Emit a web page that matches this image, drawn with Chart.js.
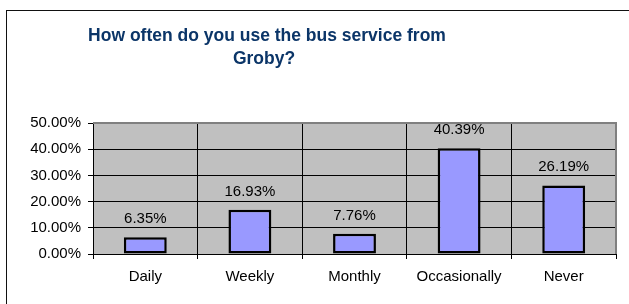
<!DOCTYPE html>
<html lang="en">
<head>
    <meta charset="UTF-8">
    <script src="https://cdn.jsdelivr.net/npm/chart.js"></script>
    <style>
        body { margin: 0; background: #fff; }
        #frame { position: absolute; left: 6px; top: 10px; width: 700px; height: 400px; border: 1.5px solid #111; }
        #wrap { position: absolute; left: 0; top: 0; width: 629px; height: 304px; }
    </style>
</head>
<body>
    <div id="frame"></div>
    <div id="wrap">
        <canvas id="myChart1" width="629" height="304"></canvas>
    </div>

    <script>
        var titleLines = ['How often do you use the bus service from', 'Groby?'];
        var categories = ['Daily', 'Weekly', 'Monthly', 'Occasionally', 'Never'];
        var shares = [0.0635, 0.1693, 0.0776, 0.4039, 0.2619];
        var yTicks = [0, 0.1, 0.2, 0.3, 0.4, 0.5];

        var pct = function (v) { return (v * 100).toFixed(2) + '%'; };
        var fontFam = '"Liberation Sans", Arial, sans-serif';

        // 회색 플롯 배경 + 테두리
        var plotBg = {
            id: 'plotBg',
            beforeDraw: function (chart) {
                var a = chart.chartArea, c = chart.ctx;
                c.save();
                c.fillStyle = '#c0c0c0';
                c.fillRect(a.left, a.top, a.right - a.left, a.bottom - a.top);
                c.restore();
            },
            beforeDatasetsDraw: function (chart) {
                var a = chart.chartArea, c = chart.ctx;
                c.save();
                c.strokeStyle = '#808080';
                c.lineWidth = 2;
                c.beginPath();
                c.moveTo(a.left, a.top);
                c.lineTo(a.right, a.top);
                c.lineTo(a.right, a.bottom);
                c.stroke();
                c.restore();
            }
        };

        // 막대 위 값 표시
        var valueLabels = {
            id: 'valueLabels',
            afterDatasetsDraw: function (chart) {
                var c = chart.ctx;
                var meta = chart.getDatasetMeta(0);
                c.save();
                c.font = '15px ' + fontFam;
                c.fillStyle = '#000';
                c.textAlign = 'center';
                c.textBaseline = 'alphabetic';
                meta.data.forEach(function (bar, i) {
                    c.fillText(pct(shares[i]), bar.x, bar.y - 14);
                });
                c.restore();
            }
        };

        // 제목 (차트 중앙보다 왼쪽에 위치)
        var titleText = {
            id: 'titleText',
            afterDraw: function (chart) {
                var c = chart.ctx;
                c.save();
                c.font = 'bold 17.5px ' + fontFam;
                c.fillStyle = '#0b3568';
                c.textAlign = 'center';
                c.textBaseline = 'alphabetic';
                c.fillText(titleLines[0], 267, 41);
                c.fillText(titleLines[1], 264, 64);
                c.restore();
            }
        };

        const ctx1 = document.getElementById('myChart1').getContext('2d');
        new Chart(ctx1, {
            type: 'bar',
            data: {
                labels: categories,
                datasets: [{
                    data: shares,
                    backgroundColor: '#9999ff',
                    borderColor: '#000',
                    borderWidth: 2.5,
                    borderSkipped: false,
                    barPercentage: 0.41,
                    categoryPercentage: 1.0
                }]
            },
            options: {
                responsive: false,
                animation: false,
                layout: { padding: { left: 0, top: 123, right: 13, bottom: 0 } },
                plugins: {
                    legend: { display: false },
                    tooltip: { enabled: false },
                    title: { display: false }
                },
                scales: {
                    y: {
                        min: 0,
                        max: 0.5,
                        afterBuildTicks: function (scale) {
                            scale.ticks = yTicks.map(function (v) { return { value: v }; });
                        },
                        afterFit: function (scale) { scale.width = 93; },
                        ticks: {
                            callback: function (v) { return pct(v); },
                            color: '#000',
                            font: { family: fontFam, size: 15 },
                            padding: 7
                        },
                        grid: { color: '#000', lineWidth: 1, tickLength: 5 },
                        border: { color: '#000', width: 1 }
                    },
                    x: {
                        afterFit: function (scale) { scale.height = 50; },
                        ticks: {
                            color: '#000',
                            font: { family: fontFam, size: 15 },
                            padding: 9
                        },
                        grid: { color: '#000', lineWidth: 1, tickLength: 5, offset: true },
                        border: { color: '#000', width: 1 }
                    }
                }
            },
            plugins: [plotBg, valueLabels, titleText]
        });
    </script>
</body>
</html>
